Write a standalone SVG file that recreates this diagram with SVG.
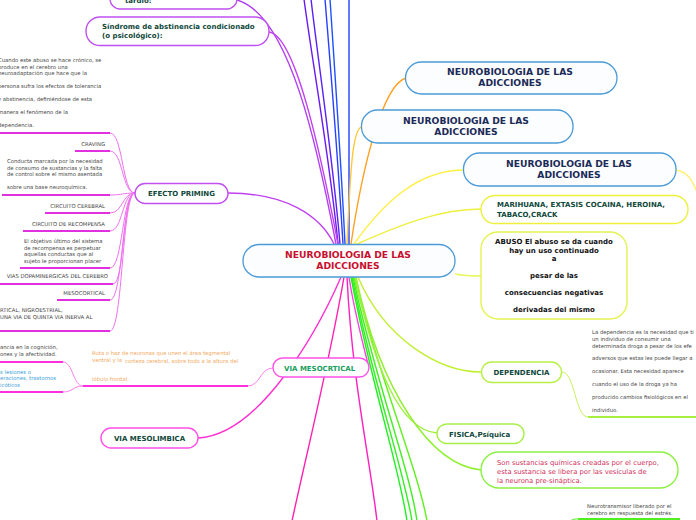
<svg xmlns="http://www.w3.org/2000/svg" width="696" height="520" viewBox="0 0 696 520">
<style>
text{font-family:"DejaVu Sans",Verdana,sans-serif}
.nb{font-weight:bold;font-size:9.2px;fill:#1b2b57;text-anchor:middle}
.ctr{font-weight:bold;font-size:9.2px;fill:#c8102e;text-anchor:middle}
.nd{font-weight:bold;font-size:7px;fill:#10473a}
.mid{text-anchor:middle}
.end{text-anchor:end}
.sm{font-size:5.3px;fill:#444}
.c{fill:none;stroke-width:1.4}
.th{fill:none;stroke-width:1}
.ul{fill:none;stroke-width:2}
.blue{fill:#fcfdff;stroke:#4a9ad8;stroke-width:1.3}
.pk{fill:#fff;stroke:#ff50e8;stroke-width:1.4}
.pu{fill:#fff;stroke:#c050f0;stroke-width:1.4}
</style>
<rect width="696" height="520" fill="#fff"/>
<g id="connectors">
<path class="c" stroke="#6a1af0" d="M338,244 C330,160 312,60 304,-1"/>
<path class="c" stroke="#5a20f8" d="M340,244 C333,160 318,60 311,-1"/>
<path class="c" stroke="#2a40ff" d="M343,244 C338,160 330,60 325,-1"/>
<path class="c" stroke="#1e50ff" d="M345,244 C341,160 334,60 330,-1"/>
<path class="c" stroke="#2040ff" d="M349,244 L349,-1"/>
<path class="c" stroke="#b040f0" d="M237,0 C290,15 318,150 336,244"/>
<path class="c" stroke="#c040f0" d="M269,32 C295,35 320,150 338,244"/>
<path class="c" stroke="#c040f0" d="M228,193 C285,193 320,215 334,244"/>
<path class="c" stroke="#ffa020" d="M351,244 C362,170 382,85 406,78"/>
<path class="c" stroke="#ffc838" d="M347,244 C350,180 352,127 362,127"/>
<path class="c" stroke="#fff040" d="M354,244 C385,200 420,170 464,170"/>
<path class="c" stroke="#eef040" d="M357,244 C400,225 440,209 481,209"/>
<path class="c" stroke="#e8f860" d="M455,274 C465,276 470,276 481,276"/>
<path class="c" stroke="#fff070" d="M676,170 C688,172 692,180 697,192"/>
<path class="c" stroke="#ff30d0" d="M198,438 C260,435 318,330 341,277"/>
<path class="c" stroke="#ff20b0" d="M344,277 C330,360 305,460 292,521"/>
<path class="c" stroke="#ff20c0" d="M347,277 C352,380 370,460 377,521"/>
<path class="c" stroke="#ff40e0" d="M349,277 C354,310 362,340 368,364"/>
<path class="c" stroke="#20f020" d="M351,277 C370,380 400,470 407,521"/>
<path class="c" stroke="#30f020" d="M352,277 C372,380 404,470 412,521"/>
<path class="c" stroke="#40f020" d="M353,277 C375,380 410,470 417,521"/>
<path class="c" stroke="#60f020" d="M354,277 C380,380 418,470 427,521"/>
<path class="c" stroke="#a0f040" d="M355,277 C375,370 400,430 437,433"/>
<path class="c" stroke="#90f030" d="M356,277 C380,390 430,465 481,470"/>
<path class="c" stroke="#c0f030" d="M358,277 C385,340 440,372 481,372"/>
<path class="th" stroke="#c8f060" d="M562,372 C575,372 575,417 588,417"/>
<path class="ul" stroke="#a8f040" d="M588,417 L697,417"/>
<path class="th" stroke="#50f020" d="M566,524 C572,519 574,519 578,519"/>
<path class="ul" stroke="#50f020" d="M578,519 L680,519"/>
<path class="th" stroke="#ff80f0" d="M273,368 C260,368 260,386 248,386"/>
<path class="ul" stroke="#ff30e0" d="M83,386 L248,386"/>
<path class="th" stroke="#ff80f0" d="M83,386 C73,386 73,362 63,362"/>
<path class="ul" stroke="#ff30e0" d="M-1,362 L63,362"/>
<path class="th" stroke="#ff80f0" d="M83,386 C73,386 73,392 63,392"/>
<path class="ul" stroke="#ff30e0" d="M-1,392 L63,392"/>
<g stroke="#f070f0">
<path class="th" d="M135,193 C122,193 123,133 110,133"/>
<path class="th" d="M135,193 C122,193 123,151 110,151"/>
<path class="th" d="M135,193 C122,193 123,195 110,195"/>
<path class="th" d="M135,193 C122,193 123,213 110,213"/>
<path class="th" d="M135,193 C122,193 123,231 110,231"/>
<path class="th" d="M135,193 C122,193 123,268 110,268"/>
<path class="th" d="M135,193 C122,193 125,284 113,284"/>
<path class="th" d="M135,193 C122,193 123,300 110,300"/>
<path class="th" d="M135,193 C122,193 123,331 110,331"/>
</g>
<g stroke="#e030e0">
<path class="ul" d="M-1,133 L110,133"/>
<path class="ul" d="M75,151 L110,151"/>
<path class="ul" d="M2,195 L110,195"/>
<path class="ul" d="M45,213 L110,213"/>
<path class="ul" d="M23,231 L110,231"/>
<path class="ul" d="M20,268 L110,268"/>
<path class="ul" d="M-1,284 L113,284"/>
<path class="ul" d="M57,300 L110,300"/>
<path class="ul" d="M-1,331 L110,331"/>
</g>
</g>
<g id="central">
<rect class="blue" x="243" y="244.5" width="212" height="32.5" rx="16" stroke="#3a8fd0"/>
<text class="ctr" x="348" y="258">NEUROBIOLOGIA DE LAS</text>
<text class="ctr" x="348" y="269">ADICCIONES</text>
</g>
<g id="neuro1">
<rect class="blue" x="405.5" y="62" width="211.5" height="32" rx="16"/>
<text class="nb" x="510" y="75">NEUROBIOLOGIA DE LAS</text>
<text class="nb" x="510" y="86">ADICCIONES</text>
</g>
<g id="neuro2">
<rect class="blue" x="361.5" y="110" width="211.5" height="33" rx="16"/>
<text class="nb" x="466" y="124">NEUROBIOLOGIA DE LAS</text>
<text class="nb" x="466" y="135">ADICCIONES</text>
</g>
<g id="neuro3">
<rect class="blue" x="463.5" y="153" width="212.5" height="33" rx="16"/>
<text class="nb" x="569" y="167">NEUROBIOLOGIA DE LAS</text>
<text class="nb" x="569" y="178">ADICCIONES</text>
</g>
<g id="marihuana">
<rect x="481" y="195.5" width="207" height="28" rx="14" fill="#fff" stroke="#eef03c" stroke-width="1.4"/>
<text class="nd" x="497" y="207">MARIHUANA, EXTASIS COCAINA, HEROINA,</text>
<text class="nd" x="497" y="216.5">TABACO,CRACK</text>
</g>
<g id="abuso">
<rect x="481" y="232" width="146" height="87" rx="17" fill="#fff" stroke="#e4f450" stroke-width="1.4"/>
<g class="nd" style="fill:#111;text-anchor:middle">
<text x="554" y="244">ABUSO El abuso se da cuando</text>
<text x="554" y="252.5">hay un uso continuado</text>
<text x="554" y="261">a</text>
<text x="554" y="278">pesar de las</text>
<text x="554" y="295">consecuencias negativas</text>
<text x="554" y="312">derivadas del mismo</text>
</g>
</g>
<g id="dependencia">
<rect x="481.5" y="362" width="80" height="20.5" rx="10" fill="#fff" stroke="#b8f048" stroke-width="1.4"/>
<text class="nd mid" x="521.5" y="375">DEPENDENCIA</text>
</g>
<g id="dependencia-texto" class="sm">
<text x="592" y="334">La dependencia es la necesidad que ti</text>
<text x="592" y="341">un individuo de consumir una</text>
<text x="592" y="348">determinada droga a pesar de los efe</text>
<text x="592" y="360">adversos que estas les puede llegar a</text>
<text x="592" y="373">ocasionar. Esta necesidad aparece</text>
<text x="592" y="386">cuando el uso de la droga ya ha</text>
<text x="592" y="399">producido cambios fisiológicos en el</text>
<text x="592" y="412">individuo.</text>
</g>
<g id="fisica">
<rect x="437" y="424" width="87" height="19.5" rx="10" fill="#fff" stroke="#a8f048" stroke-width="1.4"/>
<text class="nd" x="449" y="437">FISICA,Psíquica</text>
</g>
<g id="sustancias">
<rect x="481" y="452" width="197" height="36" rx="18" fill="#fff" stroke="#8cf040" stroke-width="1.4"/>
<g style="font-size:6.8px;fill:#d2305a">
<text x="497" y="465">Son sustancias químicas creadas por el cuerpo,</text>
<text x="497" y="473.5">esta sustancia se libera por las vesículas de</text>
<text x="497" y="482.5">la neurona pre-sináptica.</text>
</g>
</g>
<g id="neurotransmisor" class="sm">
<text x="587" y="508">Neurotransmisor liberado por el</text>
<text x="587" y="514.5">cerebro en respuesta del estrés.</text>
</g>
<g id="tardio">
<rect class="pu" x="110" y="-12" width="127" height="21" rx="10"/>
<text class="nd" x="125" y="3">tardío:</text>
</g>
<g id="sindrome">
<rect class="pu" x="86" y="17" width="183" height="28.5" rx="14"/>
<text class="nd" x="102" y="29">Síndrome de abstinencia condicionado</text>
<text class="nd" x="102" y="38">(o psicológico):</text>
</g>
<g id="efecto-priming">
<rect class="pu" x="135" y="183.5" width="93" height="20" rx="10" stroke="#e048f0"/>
<text class="nd mid" x="181.5" y="196">EFECTO PRIMING</text>
</g>
<g id="priming-textos" class="sm">
<text x="-2" y="62">Cuando este abuso se hace crónico, se</text>
<text x="-2" y="68.5">produce en el cerebro una</text>
<text x="-2" y="75">neuroadaptación que hace que la</text>
<text x="-2" y="88">persona sufra los efectos de tolerancia</text>
<text x="-2" y="101">y abstinencia, definiéndose de esta</text>
<text x="-2" y="114">manera el fenómeno de la</text>
<text x="-2" y="127">dependencia.</text>
<text class="end" x="105" y="146">CRAVING</text>
<text x="7" y="163">Conducta marcada por la necesidad</text>
<text x="7" y="169.5">de consumo de sustancias y la falta</text>
<text x="7" y="176">de control sobre el mismo asentada</text>
<text x="7" y="189">sobre una base neuroquímica.</text>
<text class="end" x="105" y="207.5">CIRCUITO CEREBRAL</text>
<text class="end" x="105" y="225.5">CIRCUITO DE RECOMPENSA</text>
<text x="24" y="243">El objetivo último del sistema</text>
<text x="24" y="249.5">de recompensa es perpetuar</text>
<text x="24" y="256">aquellas conductas que al</text>
<text x="24" y="263">sujeto le proporcionan placer</text>
<text class="end" x="108" y="278">VIAS DOPAMINERGICAS DEL CEREBRO</text>
<text class="end" x="105" y="295">MESOCORTICAL</text>
<text x="0" y="312">RTICAL, NIGROESTRIAL,</text>
<text x="0" y="318.5">UNA VIA DE QUINTA VIA INERVA  AL</text>
</g>
<g id="via-mesocortical">
<rect class="pk" x="273" y="358" width="96" height="19" rx="9.5"/>
<text class="nd" x="284" y="371" style="fill:#18a060">VIA MESOCRTICAL</text>
</g>
<g id="mesocortical-textos" class="sm">
<text x="92" y="355" style="fill:#f0a860">Ruta o haz de neuronas que unen el área tegmental</text>
<text x="92" y="362" style="fill:#f0a860">ventral y la</text>
<text x="125" y="363" style="fill:#f0a860">corteza cerebral, sobre todo a la altura del</text>
<text x="92" y="381" style="fill:#f0a860">lóbulo frontal.</text>
<text x="0" y="349">ancia en la cognición,</text>
<text x="0" y="355.5">ones y la afectividad.</text>
<text x="0" y="373.5" style="fill:#3aa0d8">s lesiones o</text>
<text x="0" y="380" style="fill:#3aa0d8">eraciones, trastornos</text>
<text x="0" y="387" style="fill:#3aa0d8">icóticos</text>
</g>
<g id="via-mesolimbica">
<rect class="pk" x="101" y="428" width="97" height="20" rx="10"/>
<text class="nd mid" x="149.5" y="441">VIA MESOLIMBICA</text>
</g>
</svg>
